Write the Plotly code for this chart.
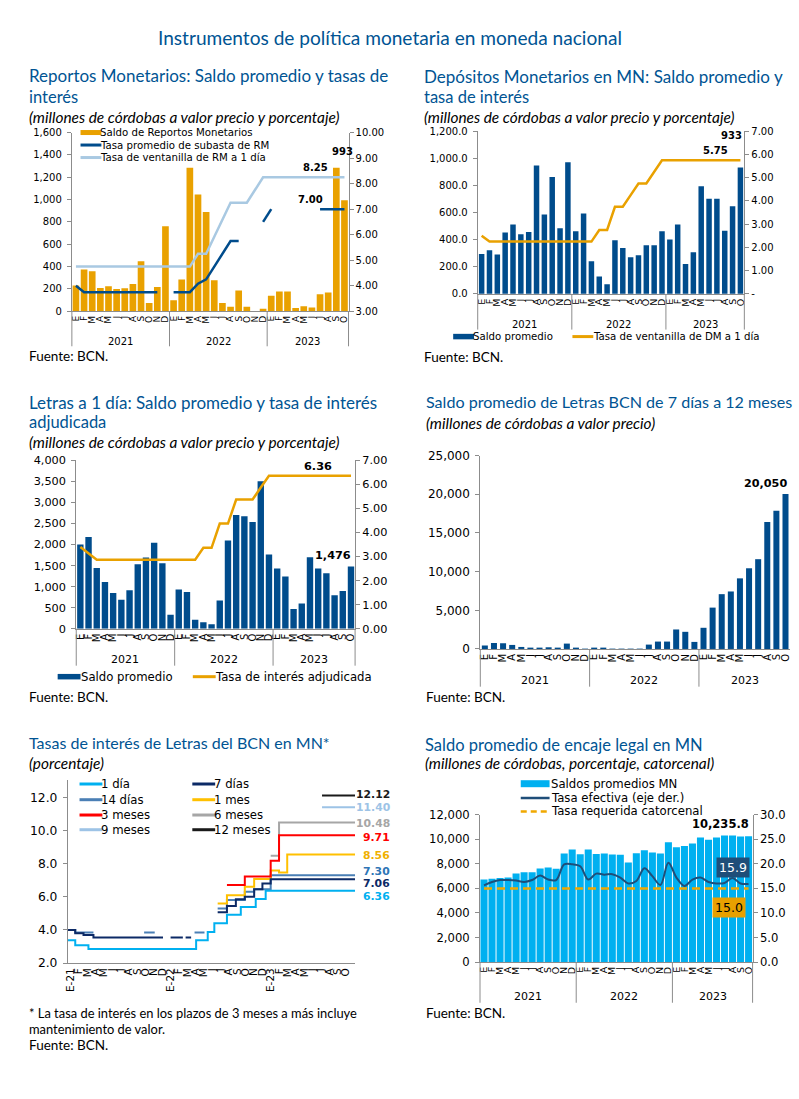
import plotly.graph_objects as go

W, H = 799, 1099
# the page photograph maps page y to picture y as 7.5 + 0.987*y; compensate
Y_OFF, Y_SC = 7.5, 0.987
TX = -5  # left padding of annotation boxes


def PX(v):
    return v / W


def PY(v):
    return 1 - ((v - Y_OFF) / Y_SC) / H


# ======================= DATA =======================
meses = ["E", "F", "M", "A", "M", "J", "J", "A", "S", "O", "N", "D",
         "E", "F", "M", "A", "M", "J", "J", "A", "S", "O", "N", "D",
         "E", "F", "M", "A", "M", "J", "J", "A", "S", "O"]
meses_tasas = ["E-21", "F", "M", "A", "M", "J", "J", "A", "S", "O", "N", "D",
               "E-22", "F", "M", "A", "M", "J", "J", "A", "S", "O", "N", "D",
               "E-23", "F", "M", "A", "M", "J", "J", "A", "S", "O"]
anios = ["2021", "2022", "2023"]

reportos_saldo = [230, 373, 358, 209, 224, 200, 206, 245, 448, 75, 218, 761,
                  98, 284, 1285, 1045, 888, 278, 75, 40, 185, 40, 0, 22,
                  140, 176, 176, 30, 45, 33, 152, 167, 1285, 993]
reportos_tasa_subasta = [4.00, 3.75, 3.75, 3.75, 3.75, 3.75, 3.75, 3.75, 3.75, 3.75, 3.75, None,
                         3.75, 3.75, 3.75, 4.08, 4.25, 4.75, 5.25, 5.75, 5.75, None, None, 6.50,
                         7.00, None, None, None, None, None, 7.00, 7.00, 7.00, 7.00]
reportos_tasa_ventanilla = [4.75, 4.75, 4.75, 4.75, 4.75, 4.75, 4.75, 4.75, 4.75, 4.75, 4.75, 4.75,
                            4.75, 4.75, 4.75, 5.25, 5.25, 5.92, 6.58, 7.25, 7.25, 7.25, 7.75, 8.25,
                            8.25, 8.25, 8.25, 8.25, 8.25, 8.25, 8.25, 8.25, 8.25, 8.25]

depositos_saldo = [295, 322, 290, 452, 511, 440, 457, 947, 585, 863, 484, 971,
                   462, 593, 241, 128, 71, 396, 339, 270, 285, 359, 359, 462,
                   401, 511, 221, 307, 794, 701, 701, 465, 646, 933]
depositos_tasa = [2.50, 2.25, 2.25, 2.25, 2.25, 2.25, 2.25, 2.25, 2.25, 2.25, 2.25, 2.25,
                  2.25, 2.25, 2.25, 2.75, 2.75, 3.75, 3.75, 4.25, 4.75, 4.75, 5.25, 5.75,
                  5.75, 5.75, 5.75, 5.75, 5.75, 5.75, 5.75, 5.75, 5.75, 5.75]

letras1d_saldo = [2000, 2180, 1444, 1111, 849, 690, 913, 1532, 1690, 2040, 1556, 333,
                  929, 873, 214, 151, 103, 667, 2095, 2700, 2669, 2535, 3500, 1760,
                  1429, 1238, 468, 595, 1698, 1429, 1317, 794, 897, 1476]
letras1d_tasa = [3.40, 3.15, 2.87, 2.87, 2.87, 2.87, 2.87, 2.87, 2.87, 2.87, 2.87, 2.87,
                 2.87, 2.87, 2.87, 3.36, 3.36, 4.37, 4.37, 5.37, 5.37, 5.37, 5.87, 6.36,
                 6.36, 6.36, 6.36, 6.36, 6.36, 6.36, 6.36, 6.36, 6.36, 6.36]

letras_plazo_saldo = [435, 783, 739, 522, 261, 130, 130, 217, 174, 696, 174, 30,
                      174, 87, 20, 20, 15, 10, 565, 957, 957, 2522, 2217, 913,
                      2739, 5348, 7087, 7435, 9130, 10435, 11609, 16425, 17886, 20050]

# Tasas de Letras (step series: month position where the rate changes, rate)
t_1dia_x = [-0.3, 0.58, 2.16, 15.06, 16.45, 17.24, 18.75, 20.41, 22.2, 23.39, 34.1]
t_1dia_y = [3.37, 3.07, 2.85, 3.37, 3.87, 4.41, 4.92, 5.38, 5.86, 6.36, 6.36]
t_7dias_x = [-0.3, 0.58, 1.57, 2.76, 11.09, None, 12.0, 13.47, None, 13.8, 14.46, None,
             17.64, 18.75, 19.82, 20.89, 22.01, 23.0, 23.99, 34.1]
t_7dias_y = [4.00, 3.80, 3.70, 3.55, 3.55, None, 3.55, 3.55, None, 3.55, 3.55, None,
             5.06, 5.45, 5.85, 6.00, 6.45, 6.80, 7.06, 7.06]
t_14dias_x = [-0.3, 0.58, 2.76, None, 8.83, 10.1, None, 14.87, 16.06, None,
              17.64, 18.75, 20.89, 22.01, 23.99, 34.1]
t_14dias_y = [4.00, 3.85, 3.85, None, 3.85, 3.85, None, 3.85, 3.85, None,
              5.30, 5.80, 6.30, 6.45, 7.30, 7.30]
t_1mes_x = [17.64, 18.75, 20.89, 22.01, 23.99, 24.99, 25.97, 34.1]
t_1mes_y = [5.60, 6.10, 6.60, 7.07, 7.59, 7.47, 8.56, 8.56]
t_3meses_x = [18.75, 20.89, 23.99, 24.99, 34.1]
t_3meses_y = [6.71, 7.23, 8.18, 9.71, 9.71]
t_6meses_x = [23.99, 24.99, 34.1]
t_6meses_y = [8.48, 10.48, 10.48]
t_9meses_x = [30.14, 34.1]
t_9meses_y = [11.40, 11.40]
t_12meses_x = [30.14, 34.1]
t_12meses_y = [12.12, 12.12]

encaje_saldo = [6730, 6780, 6840, 6890, 7220, 7320, 7320, 7620, 7700, 7590, 8840, 9160,
                8780, 9160, 8810, 8840, 8760, 8730, 8110, 8860, 9110, 8920, 8840, 9760,
                9350, 9460, 9650, 10140, 9970, 10140, 10300, 10300, 10220, 10235.8]
encaje_tasa_efectiva = [15.6, 16.3, 16.7, 16.7, 16.6, 16.3, 16.7, 17.6, 16.8, 16.7, 19.9, 19.9,
                        19.5, 16.8, 18.0, 17.8, 17.9, 17.2, 16.0, 16.5, 19.1, 17.5, 15.7, 20.2,
                        17.2, 15.5, 16.8, 17.2, 16.3, 16.0, 16.1, 17.1, 16.0, 15.9]
encaje_tasa_requerida = [15.0, 15.0, 15.0, 15.0, 15.0, 15.0, 15.0, 15.0, 15.0, 15.0, 15.0, 15.0,
                         15.0, 15.0, 15.0, 15.0, 15.0, 15.0, 15.0, 15.0, 15.0, 15.0, 15.0, 15.0,
                         15.0, 15.0, 15.0, 15.0, 15.0, 15.0, 15.0, 15.0, 15.0, 15.0]

# ======================= STYLE =======================
TITLE_BLUE = "#005493"
NAVY = "#004C8C"
ORANGE = "#E9A100"
LIGHTBLUE = "#A9C9E2"
CYAN = "#00B0F0"
AXC = "#8C8C8C"
TICKF = "DejaVu Sans"
TITLEF = "Lato"
TS = 16.5    # panel title size
TSJ = 17     # first (justified) title line size
SS = 15.4    # subtitle size
FS = 13.5    # fuente size

pos = list(range(len(meses)))
traces = []
shapes = []
annots = []


def text(x, y, s, size, color="black", family=TICKF, xanchor="left", yanchor="middle",
         xref="paper", yref="paper", **kw):
    annots.append(dict(x=x, y=y, xref=xref, yref=yref, text=s, showarrow=False,
                       xanchor=xanchor, yanchor=yanchor,
                       font=dict(family=family, size=size, color=color), **kw))


def ptext(xp, yp, s, size, **kw):
    if kw.get("xanchor", "left") == "left":
        xp = xp + TX
    text(PX(xp), PY(yp), s, size, **kw)


def leg_rect(x0, x1, yc, h, color):
    shapes.append(dict(type="rect", xref="paper", yref="paper", x0=PX(x0), x1=PX(x1),
                       y0=PY(yc + h / 2), y1=PY(yc - h / 2), fillcolor=color,
                       line=dict(width=0)))


def leg_line(x0, x1, yc, color, width=3, dash="solid"):
    shapes.append(dict(type="line", xref="paper", yref="paper", x0=PX(x0), x1=PX(x1),
                       y0=PY(yc), y1=PY(yc), line=dict(color=color, width=width, dash=dash)))


def vline_paper(xp, y0p, y1p):
    shapes.append(dict(type="line", xref="paper", yref="paper", x0=PX(xp), x1=PX(xp),
                       y0=PY(y0p), y1=PY(y1p), line=dict(color=AXC, width=1)))


def x_axis(x0, x1, anchor, fs, labels, rng):
    return dict(domain=[PX(x0), PX(x1)], anchor=anchor, range=rng,
                tickmode="array", tickvals=list(range(len(labels))), ticktext=labels,
                tickangle=-90, tickfont=dict(family=TICKF, size=fs, color="black"),
                showline=True, linecolor=AXC, linewidth=1, ticks="",
                showgrid=False, zeroline=False, fixedrange=True)


def y_axis(top, bottom, anchor, rng, fs, fmt, dtick, side="left", overlaying=None,
           tickvals=None, ticktext=None):
    d = dict(anchor=anchor, range=rng, side=side,
             tickfont=dict(family=TICKF, size=fs, color="black"),
             showline=True, linecolor=AXC, linewidth=1, ticks="outside", ticklen=4,
             tickcolor=AXC, showgrid=False, zeroline=False, fixedrange=True)
    if side == "left":
        d["ticklabelstandoff"] = 3
    if tickvals is not None:
        d.update(tickmode="array", tickvals=tickvals, ticktext=ticktext)
    else:
        d.update(tickformat=fmt, dtick=dtick, tick0=rng[0])
    if overlaying:
        d["overlaying"] = overlaying
    else:
        d["domain"] = [PY(bottom), PY(top)]
    return d


def year_groups(xref, axis_bottom, sep_bottom, label_y, fs, left_px, right_px):
    for k in range(1, len(anios)):
        b = k * 12 - 0.5
        shapes.append(dict(type="line", xref=xref, yref="paper", x0=b, x1=b,
                           y0=PY(axis_bottom), y1=PY(sep_bottom),
                           line=dict(color=AXC, width=1)))
    vline_paper(left_px, axis_bottom, sep_bottom)
    if right_px is not None:
        vline_paper(right_px, axis_bottom, sep_bottom)
    for k, yr in enumerate(anios):
        members = [i for i in pos if i // 12 == k]
        c = (members[0] + members[-1]) / 2
        text(c, PY(label_y), yr, fs, xref=xref, xanchor="center")


layout = dict(width=W, height=H, margin=dict(l=0, r=0, t=0, b=0),
              paper_bgcolor="white", plot_bgcolor="rgba(0,0,0,0)", showlegend=False,
              font=dict(family=TICKF, size=10, color="black"))

# ---------------- main title ----------------
ptext(388, 38, "Instrumentos de política monetaria en moneda nacional", 19.1,
      color=TITLE_BLUE, family=TITLEF, xanchor="center")

# ================= Panel 1: Reportos =================
P1 = dict(x0=68.3, x1=346.7, top=133, bottom=311.7)
layout["xaxis"] = x_axis(P1["x0"], P1["x1"], "y", 9, meses, [-0.5, 33.5])
layout["yaxis"] = y_axis(P1["top"], P1["bottom"], "x", [0, 1600], 10, ",", 200)
layout["yaxis2"] = y_axis(P1["top"], P1["bottom"], "x", [3, 10], 10, ".2f", 1,
                          side="right", overlaying="y")
traces.append(go.Bar(x=pos, y=reportos_saldo, xaxis="x", yaxis="y", width=0.82,
                     marker=dict(color=ORANGE, line=dict(width=0)),
                     name="Saldo de Reportos Monetarios"))
traces.append(go.Scatter(x=pos, y=reportos_tasa_ventanilla, xaxis="x", yaxis="y2",
                         mode="lines", line=dict(color=LIGHTBLUE, width=2.5),
                         name="Tasa de ventanilla de RM a 1 día"))
traces.append(go.Scatter(x=pos, y=reportos_tasa_subasta, xaxis="x", yaxis="y2",
                         mode="lines", line=dict(color=NAVY, width=2.5),
                         connectgaps=False, name="Tasa promedio de subasta de RM"))
ptext(28, 76, "Reportos Monetarios: Saldo promedio y tasas de", TSJ, color=TITLE_BLUE, family=TITLEF)
ptext(28, 97, "interés", TS, color=TITLE_BLUE, family=TITLEF)
ptext(28, 117, "<i>(millones de córdobas a valor precio y porcentaje)</i>", SS, family=TITLEF)
year_groups("x", P1["bottom"], 346.7, 342, 10, P1["x0"], P1["x1"])
ptext(28, 356, "Fuente: BCN.", FS, family=TITLEF)
leg_rect(77, 98, 133, 5, ORANGE)
ptext(100, 133, "Saldo de Reportos Monetarios", 10.2)
leg_line(77, 98, 145.5, NAVY, 3)
ptext(100, 145.5, "Tasa promedio de subasta de RM", 10.2)
leg_line(77, 98, 158, LIGHTBLUE, 3)
ptext(100, 158, "Tasa de ventanilla de RM a 1 día", 10.2)
text(32.7, 1430, "<b>993</b>", 10, xref="x", yref="y", xanchor="center")
text(29.4, 8.63, "<b>8.25</b>", 10, xref="x", yref="y2", xanchor="center")
text(28.8, 7.38, "<b>7.00</b>", 10, xref="x", yref="y2", xanchor="center")

# ================= Panel 2: Depósitos =================
P2 = dict(x0=476.7, x1=745, top=131.7, bottom=294.3)
layout["xaxis2"] = x_axis(P2["x0"], P2["x1"], "y3", 9.5, meses, [-0.5, 33.5])
layout["yaxis3"] = y_axis(P2["top"], P2["bottom"], "x2", [0, 1200], 10, ",.1f", 200)
layout["yaxis4"] = y_axis(P2["top"], P2["bottom"], "x2", [0, 7], 10, None, None,
                          side="right", overlaying="y3",
                          tickvals=[0, 1, 2, 3, 4, 5, 6, 7],
                          ticktext=["-", "1.00", "2.00", "3.00", "4.00", "5.00", "6.00", "7.00"])
traces.append(go.Bar(x=pos, y=depositos_saldo, xaxis="x2", yaxis="y3", width=0.7,
                     marker=dict(color=NAVY, line=dict(width=0)), name="Saldo promedio"))
traces.append(go.Scatter(x=pos, y=depositos_tasa, xaxis="x2", yaxis="y4", mode="lines",
                         line=dict(color=ORANGE, width=2.5),
                         name="Tasa de ventanilla de DM a 1 día"))
ptext(426, 77, "Depósitos Monetarios en MN: Saldo promedio y", TSJ, color=TITLE_BLUE, family=TITLEF)
ptext(426, 97, "tasa de interés", TS, color=TITLE_BLUE, family=TITLEF)
ptext(426, 117, "<i>(millones de córdobas a valor precio y porcentaje)</i>", SS, family=TITLEF)
year_groups("x2", P2["bottom"], 330, 325, 10, P2["x0"], P2["x1"])
leg_rect(452, 473, 337, 5.5, NAVY)
ptext(475, 337, "Saldo promedio", 10.2)
leg_line(572, 593, 337, ORANGE, 3)
ptext(596, 337, "Tasa de ventanilla de DM a 1 día", 10.2)
ptext(426, 357, "Fuente: BCN.", FS, family=TITLEF)
text(29.8, 6.17, "<b>5.75</b>", 10, xref="x2", yref="y4", xanchor="center")
text(31.9, 1168, "<b>933</b>", 10, xref="x2", yref="y3", xanchor="center")

# ================= Panel 3: Letras a 1 día =================
P3 = dict(x0=72.7, x1=353.3, top=460.7, bottom=629)
layout["xaxis3"] = x_axis(P3["x0"], P3["x1"], "y5", 10, meses, [-0.5, 33.5])
layout["yaxis5"] = y_axis(P3["top"], P3["bottom"], "x3", [0, 4000], 11.3, ",", 500)
layout["yaxis6"] = y_axis(P3["top"], P3["bottom"], "x3", [0, 7], 11.3, ".2f", 1,
                          side="right", overlaying="y5")
traces.append(go.Bar(x=pos, y=letras1d_saldo, xaxis="x3", yaxis="y5", width=0.78,
                     marker=dict(color=NAVY, line=dict(width=0)), name="Saldo promedio"))
traces.append(go.Scatter(x=pos, y=letras1d_tasa, xaxis="x3", yaxis="y6", mode="lines",
                         line=dict(color=ORANGE, width=2.5), name="Tasa de interés adjudicada"))
ptext(28, 403, "Letras a 1 día: Saldo promedio y tasa de interés", TSJ, color=TITLE_BLUE, family=TITLEF)
ptext(28, 422, "adjudicada", TS, color=TITLE_BLUE, family=TITLEF)
ptext(28, 442, "<i>(millones de córdobas a valor precio y porcentaje)</i>", SS, family=TITLEF)
year_groups("x3", P3["bottom"], 666, 660, 11, P3["x0"], P3["x1"])
leg_rect(54, 77, 677, 5.5, NAVY)
ptext(80, 677, "Saldo promedio", 11.7)
leg_line(190, 213, 677, ORANGE, 3)
ptext(215, 677, "Tasa de interés adjudicada", 11.7)
ptext(28, 697, "Fuente: BCN.", FS, family=TITLEF)
text(29.0, 6.74, "<b>6.36</b>", 11.3, xref="x3", yref="y6", xanchor="center")
text(30.8, 1735, "<b>1,476</b>", 11.3, xref="x3", yref="y5", xanchor="center")

# ================= Panel 4: Letras 7 días a 12 meses =================
P4 = dict(x0=479.3, x1=791, top=456, bottom=649.3)
layout["xaxis4"] = x_axis(P4["x0"], P4["x1"], "y7", 10, meses, [-0.5, 33.5])
layout["yaxis7"] = y_axis(P4["top"], P4["bottom"], "x4", [0, 25000], 12, ",", 5000)
traces.append(go.Bar(x=pos, y=letras_plazo_saldo, xaxis="x4", yaxis="y7", width=0.66,
                     marker=dict(color=NAVY, line=dict(width=0)), name="Saldo promedio"))
ptext(428, 402, "Saldo promedio de Letras BCN de 7 días a 12 meses", 16.1, color=TITLE_BLUE, family=TITLEF)
ptext(428, 423, "<i>(millones de córdobas a valor precio)</i>", SS, family=TITLEF)
year_groups("x4", P4["bottom"], 687, 681, 11, P4["x0"], None)
ptext(428, 697, "Fuente: BCN.", FS, family=TITLEF)
text(30.8, 21380, "<b>20,050</b>", 11.2, xref="x4", yref="y7", xanchor="center")

# ================= Panel 5: Tasas de Letras =================
P5 = dict(x0=64.3, x1=353.3, top=780, bottom=963.3)
layout["xaxis5"] = x_axis(P5["x0"], P5["x1"], "y8", 10.5, meses_tasas, [-0.3, 34.1])
layout["yaxis8"] = y_axis(P5["top"], P5["bottom"], "x5", [2, 13.07], 12.3, ".1f", 2)
series5 = [
    ("9 meses", t_9meses_x, t_9meses_y, "#9DC3E6"),
    ("6 meses", t_6meses_x, t_6meses_y, "#A6A6A6"),
    ("14 días", t_14dias_x, t_14dias_y, "#4A7FB5"),
    ("1 mes", t_1mes_x, t_1mes_y, "#FFC000"),
    ("3 meses", t_3meses_x, t_3meses_y, "#FF0000"),
    ("7 días", t_7dias_x, t_7dias_y, "#0C2A66"),
    ("1 día", t_1dia_x, t_1dia_y, CYAN),
    ("12 meses", t_12meses_x, t_12meses_y, "#1A1A1A"),
]
col5 = {}
for name, xs, ys, color in series5:
    col5[name] = color
    traces.append(go.Scatter(x=xs, y=ys, xaxis="x5", yaxis="y8", mode="lines",
                             line=dict(color=color, width=2, shape="hv"),
                             connectgaps=False, name=name))
ptext(28, 743, "Tasas de interés de Letras del BCN en MN*", 16, color=TITLE_BLUE, family=TITLEF)
ptext(28, 763, "<i>(porcentaje)</i>", SS, family=TITLEF)
leg_rows = [784.3, 800, 815.3, 830]
for r, (a, b) in enumerate([("1 día", "7 días"), ("14 días", "1 mes"),
                            ("3 meses", "6 meses"), ("9 meses", "12 meses")]):
    leg_line(76, 99, leg_rows[r], col5[a], 3)
    ptext(102, leg_rows[r], a, 11.7, borderpad=0)
    leg_line(189.5, 212.5, leg_rows[r], col5[b], 3)
    ptext(215.5, leg_rows[r], b, 11.7, borderpad=0)
end_labels = [("12.12", 12.2, "#1A1A1A"), ("11.40", 11.40, "#9DC3E6"),
              ("10.48", 10.45, "#A6A6A6"), ("9.71", 9.61, "#FF0000"),
              ("8.56", 8.48, "#F0B000"), ("7.30", 7.53, "#2E75B6"),
              ("7.06", 6.79, "#0C2A66"), ("6.36", 6.02, CYAN)]
for s, yv, c in end_labels:
    text(PX(389), yv, "<b>" + s + "</b>", 10.8, color=c, xanchor="right", yref="y8",
         borderpad=0)
ptext(28, 1013, "* La tasa de interés en los plazos de 3 meses a más incluye", 12.9, family=TITLEF)
ptext(28, 1029, "mantenimiento de valor.", 12.9, family=TITLEF)
ptext(28, 1045, "Fuente: BCN.", FS, family=TITLEF)

# ================= Panel 6: Encaje legal =================
P6 = dict(x0=479, x1=753.3, top=815, bottom=962.3)
layout["xaxis6"] = x_axis(P6["x0"], P6["x1"], "y9", 9.5, meses, [-0.5, 33.5])
layout["yaxis9"] = y_axis(P6["top"], P6["bottom"], "x6", [0, 12000], 11.6, ",", 2000)
layout["yaxis10"] = y_axis(P6["top"], P6["bottom"], "x6", [0, 30], 11.6, ".1f", 5,
                           side="right", overlaying="y9")
traces.append(go.Bar(x=pos, y=encaje_saldo, xaxis="x6", yaxis="y9", width=0.88,
                     marker=dict(color=CYAN, line=dict(width=0)), name="Saldos promedios MN"))
traces.append(go.Scatter(x=pos, y=encaje_tasa_requerida, xaxis="x6", yaxis="y10", mode="lines",
                         line=dict(color="#F0A800", width=2.5, dash="8px,5px"),
                         name="Tasa requerida catorcenal"))
traces.append(go.Scatter(x=pos, y=encaje_tasa_efectiva, xaxis="x6", yaxis="y10", mode="lines",
                         line=dict(color="#1F4E79", width=2, shape="spline", smoothing=1.0),
                         name="Tasa efectiva (eje der.)"))
ptext(427, 745, "Saldo promedio de encaje legal en MN", TS, color=TITLE_BLUE, family=TITLEF)
ptext(427, 763, "<i>(millones de córdobas, porcentaje, catorcenal)</i>", SS, family=TITLEF)
leg_rect(520, 549, 784, 7, CYAN)
ptext(554, 784, "Saldos promedios MN", 11.7, borderpad=0)
leg_line(520, 549, 798.3, "#1F4E79", 2.5)
ptext(554, 798.3, "Tasa efectiva (eje der.)", 11.7, borderpad=0)
leg_line(520, 549, 811.7, "#F0A800", 2.5, "6px,4px")
ptext(554, 811.7, "Tasa requerida catorcenal", 11.7, borderpad=0)
year_groups("x6", P6["bottom"], 1003, 996.7, 11, P6["x0"], P6["x1"])
ptext(428, 1013.3, "Fuente: BCN.", FS, family=TITLEF)
text(29.5, 11267, "<b>10,235.8</b>", 11.5, xref="x6", yref="y9", xanchor="center",
     borderpad=0)
text(31.1, 19.3, "15.9", 12.5, color="white", xref="x6", yref="y10", xanchor="center",
     bgcolor="#1F4E79", borderpad=2)
text(30.55, 11.16, "15.0", 12.5, color="black", xref="x6", yref="y10", xanchor="center",
     bgcolor="#E8A000", borderpad=2)

layout["shapes"] = shapes
layout["annotations"] = annots

fig = go.Figure(data=traces, layout=layout)
fig.write_html("out.html", config={"displayModeBar": False},
               post_script="document.body.style.margin='0';")
